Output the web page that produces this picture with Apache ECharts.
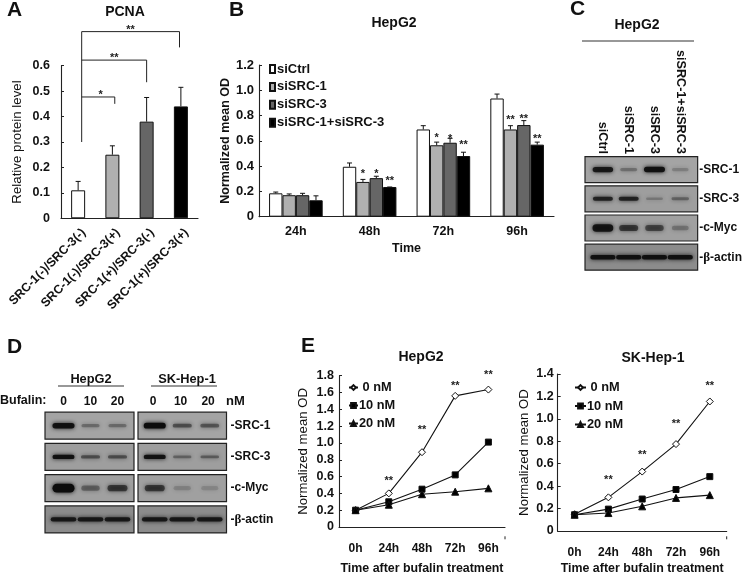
<!DOCTYPE html>
<html><head><meta charset="utf-8">
<style>html,body{margin:0;padding:0;background:#fff}#c{width:745px;height:576px;filter:blur(0.35px)}</style>
<script src="https://cdn.jsdelivr.net/npm/echarts@6/dist/echarts.min.js"></script>
</head><body><div id="c"></div>
<script>
// ---- Panel A
const aCats = ['SRC-1(-)/SRC-3(-)','SRC-1(-)/SRC-3(+)','SRC-1(+)/SRC-3(-)','SRC-1(+)/SRC-3(+)'];
const aValues = [0.11,0.25,0.38,0.44];
const aErrTops = [0.145,0.285,0.475,0.515];
// x in category widths, right-hand x, bar height, drop end of the right leg, stars
const aBrackets = [[0.604,3.46,0.734,0.672,'**'],[0.604,2.5,0.622,0.535,'**'],[0.604,1.57,0.477,0.45,'*']];
const aTrunk = [0.604,0.734,0.30];
// ---- Panel B
const bCats = ['24h','48h','72h','96h'];
const bNames = ['siCtrl','siSRC-1','siSRC-3','siSRC-1+siSRC-3'];
const bCtrl  = [0.185,0.395,0.69,0.935];
const bSrc1  = [0.17,0.275,0.565,0.69];
const bSrc3  = [0.17,0.305,0.585,0.725];
const bBoth  = [0.13,0.235,0.48,0.57];
const bCtrlErr = [0.195,0.425,0.72,0.97];
const bSrc1Err = [0.18,0.295,0.59,0.72];
const bSrc3Err = [0.185,0.32,0.62,0.76];
const bBothErr = [0.165,0.235,0.51,0.59];
// category, bar index, star height, stars
const bStars = [[1,1,0.36,'*'],[1,2,0.36,'*'],[1,3,0.305,'**'],[2,1,0.646,'*'],[2,2,0.64,'*'],[2,3,0.59,'**'],[3,1,0.79,'**'],[3,2,0.80,'**'],[3,3,0.64,'**']];
// ---- Panel C blots
const cLanes = ['siCtrl','siSRC-1','siSRC-3','siSRC-1+siSRC-3'];
const cRows = ['-SRC-1','-SRC-3','-c-Myc','-β-actin'];
const cBands = [[0.9,0.22,1,0.12],[0.8,0.8,0.15,0.3],[0.95,0.6,0.5,0.18],[1,1,1,1]];
// ---- Panel D blots
const dLanes1 = ['0','10','20'];
const dLanes2 = ['0 ','10 ','20 '];
const dRows = ['-SRC-1','-SRC-3','-c-Myc','-β-actin'];
const dBands1 = [[1,0.25,0.25],[1,0.45,0.45],[1.3,0.3,0.6],[0.9,0.9,0.9]];
const dBands2 = [[1.1,0.45,0.4],[1,0.3,0.35],[0.6,0.08,0.05],[0.9,0.9,0.9]];
// ---- Panel E
const eCats = ['0h','24h','48h','72h','96h'];
const eNames = ['0 nM','10 nM','20 nM'];
const e1Zero = [0.2,0.4,0.89,1.56,1.635];
const e1Ten  = [0.2,0.3,0.45,0.62,1.01];
const e1Twenty=[0.2,0.265,0.39,0.42,0.46];
const e2Zero = [0.15,0.30,0.53,0.775,1.155];
const e2Ten  = [0.145,0.195,0.285,0.37,0.485];
const e2Twenty=[0.145,0.16,0.22,0.295,0.32];
const e1Stars = [[1,0.586],[2,1.19],[3,1.716],[4,1.84]];
const e2Stars = [[1,0.483],[2,0.706],[3,0.977],[4,1.32]];

const FONT = '"Liberation Sans", Arial, sans-serif';
const INK = '#111';
const fills = ['#fff','#b0b0b0','#666','#000'];
const lbl = (size,bold=true)=>({fontFamily:FONT,fontSize:size,fontWeight:bold?'bold':'normal',color:INK});
const fmt1 = v => v===0 ? '0' : v.toFixed(1);
const line = {lineStyle:{color:'#222',width:1.1}};

const grid = [
 {left:61,top:65.7,width:137,height:152.6},
 {left:259,top:65,width:295,height:151.7},
 {left:339,top:375.7,width:166,height:163.6},
 {left:557.7,top:374,width:169,height:165.3},
 {left:590,top:155,width:105.6,height:116.8},
 {left:50,top:410,width:81,height:125},
 {left:141,top:410,width:82.5,height:125}
];
function catAxis(i,data,extra){return Object.assign({type:'category',gridIndex:i,data,axisLine:Object.assign({onZero:false},line),
  axisTick:{inside:true,length:3,lineStyle:{color:'#222'}},axisLabel:Object.assign({interval:0},lbl(12.5))},extra||{});}
function valAxis(i,max,step,name,gap,size,bold,nameSize,margin){return {type:'value',gridIndex:i,min:0,max,interval:step,splitLine:{show:false},
  axisLine:Object.assign({show:true},line),axisTick:{show:true,inside:true,length:3,lineStyle:{color:'#222'}},
  axisLabel:Object.assign({formatter:fmt1,margin},lbl(size)),
  name,nameLocation:'middle',nameGap:gap,nameRotate:90,nameTextStyle:lbl(nameSize||12.5,bold)};}
function blotX(i,data,extra){return {type:'category',gridIndex:i,data,position:'top',axisLine:{show:false},axisTick:{show:false},
  axisLabel:Object.assign({interval:0,margin:2},lbl(12),extra||{})};}
function blotY(i,data,show,margin){return {type:'category',gridIndex:i,data,inverse:true,position:'right',axisLine:{show:false},axisTick:{show:false},
  axisLabel:Object.assign({show,interval:0,margin,formatter:v=>v.replace('β','{s|β}'),rich:{s:{fontFamily:'"Liberation Serif",serif',fontSize:13,color:INK}}},lbl(12))};}
const eTick = {inside:true,length:3,alignWithLabel:true,lineStyle:{color:'#222'}};

const xAxis = [
 catAxis(0,aCats,{axisLabel:Object.assign({interval:0,rotate:45,margin:18,padding:[0,-8,0,0]},lbl(12.4))}),      //0
 catAxis(1,bCats,{axisLabel:Object.assign({interval:0,margin:8},lbl(12.5)),name:'Time',nameLocation:'middle',nameGap:25,nameTextStyle:lbl(12.5)}), //1
 catAxis(2,eCats,{axisTick:eTick,axisLabel:Object.assign({interval:0,margin:16},lbl(12)),name:'Time after bufalin treatment',nameLocation:'middle',nameGap:36,nameTextStyle:lbl(12.4)}), //2
 catAxis(3,eCats,{axisTick:eTick,axisLabel:Object.assign({interval:0,margin:16},lbl(12)),name:'Time after bufalin treatment',nameLocation:'middle',nameGap:32,nameTextStyle:lbl(12.4)}), //3
 blotX(4,cLanes,{rotate:90,fontSize:12.6,margin:1,padding:[0,0,5,0]}), //4
 blotX(5,dLanes1), //5
 blotX(6,dLanes2), //6
 {type:'value',gridIndex:0,min:0,max:4,show:false} //7 overlay for brackets
];
const yAxis = [
 valAxis(0,0.6,0.1,'Relative protein level',37,12.5,false,13.3,11),
 valAxis(1,1.2,0.2,'Normalized mean OD',22,13,true,12.5,5),
 valAxis(2,1.8,0.2,'Normalized mean OD',29,12.5,false,13.2,5),
 valAxis(3,1.4,0.2,'Normalized mean OD',27,12.5,false,13.2,4),
 blotY(4,cRows,true,6),
 blotY(5,dRows,false,0),
 blotY(6,dRows,true,7)
];

const errItem = (off,cap)=>(p,api)=>{
  const a=api.coord([api.value(0),api.value(1)]), b=api.coord([api.value(0),api.value(2)]);
  const x=a[0]+off;
  return {type:'group',children:[
    {type:'line',shape:{x1:x,y1:a[1],x2:x,y2:b[1]},style:{stroke:'#111',lineWidth:1}},
    {type:'line',shape:{x1:x-cap,y1:b[1],x2:x+cap,y2:b[1]},style:{stroke:'#111',lineWidth:1}}]};
};
const starText=(x,y,t,size)=>({type:'text',style:{text:t,x,y,fill:'#222',font:`bold ${size}px ${FONT}`,textAlign:'center',textVerticalAlign:'middle'}});
const series=[];
// A
series.push({type:'bar',xAxisIndex:0,yAxisIndex:0,barWidth:14,silent:true,
  data:aValues.map((v,i)=>({value:v,itemStyle:{color:fills[i],borderColor:'#111',borderWidth:1}}))});
series.push({type:'custom',xAxisIndex:0,yAxisIndex:0,silent:true,data:aValues.map((v,i)=>[i,v,aErrTops[i]]),renderItem:errItem(0,2.5),z:3});
series.push({type:'custom',xAxisIndex:7,yAxisIndex:0,silent:true,data:aBrackets,z:4,renderItem:(p,api)=>{
  const l=api.coord([api.value(0),api.value(2)]), r=api.coord([api.value(1),api.value(2)]), d=api.coord([api.value(1),api.value(3)]);
  const t=aBrackets[p.dataIndex][4];
  return {type:'group',children:[
    {type:'polyline',shape:{points:[l,r,d]},style:{stroke:'#222',lineWidth:1,fill:null}},
    starText((l[0]+r[0])/2 + (t==='*'?2.5:0),l[1]-2,t,11)]};
}});
series.push({type:'custom',xAxisIndex:7,yAxisIndex:0,silent:true,data:[aTrunk],z:4,renderItem:(p,api)=>{
  const a=api.coord([api.value(0),api.value(1)]), b=api.coord([api.value(0),api.value(2)]);
  return {type:'line',shape:{x1:a[0],y1:a[1],x2:b[0],y2:b[1]},style:{stroke:'#222',lineWidth:1}};
}});
// B
const BW=13.4;
[[bCtrl,bCtrlErr],[bSrc1,bSrc1Err],[bSrc3,bSrc3Err],[bBoth,bBothErr]].forEach((pair,k)=>{
  series.push({type:'bar',name:bNames[k],xAxisIndex:1,yAxisIndex:1,barWidth:BW,barGap:0,silent:true,data:pair[0],
    itemStyle:{color:fills[k],borderColor:'#111',borderWidth:1}});
  series.push({type:'custom',xAxisIndex:1,yAxisIndex:1,silent:true,z:3,data:pair[0].map((v,i)=>[i,v,pair[1][i]]),
    renderItem:errItem((k-1.5)*BW,2.5)});
});
series.push({type:'custom',xAxisIndex:1,yAxisIndex:1,silent:true,z:4,data:bStars,renderItem:(p,api)=>{
  const c=api.coord([api.value(0),api.value(2)]);
  return starText(c[0]+(api.value(1)-1.5)*BW,c[1]+3,bStars[p.dataIndex][3],11);
}});
// E
function lineSeries(name,data,gi,sym,size,fill){return {type:'line',name,xAxisIndex:gi,yAxisIndex:gi,data,silent:true,symbol:sym,symbolSize:size,showAllSymbol:true,
  lineStyle:{color:'#111',width:1.1},itemStyle:{color:fill,borderColor:'#111',borderWidth:1},z:3};}
[[e1Zero,e1Ten,e1Twenty,2,e1Stars],[e2Zero,e2Ten,e2Twenty,3,e2Stars]].forEach(s=>{
  series.push(lineSeries('0 nM',s[0],s[3],'diamond',7,'#fff'));
  series.push(lineSeries('10 nM',s[1],s[3],'rect',6,'#000'));
  series.push(lineSeries('20 nM',s[2],s[3],'triangle',7,'#000'));
  series.push({type:'custom',xAxisIndex:s[3],yAxisIndex:s[3],silent:true,data:s[4],renderItem:(p,api)=>{
    const c=api.coord([api.value(0),api.value(1)]);
    return starText(c[0],c[1]+3,'**',11);
  }});
});
// Blots
const rowBg=['#a4a4a4','#9e9e9e','#a0a0a0','#8c8c8c'];
const rowThick=[5,4,7,4];
function blotSeries(gi,bands,rowH,padL,padR,bandW){
  const items=[];
  bands.forEach((r,row)=>r.forEach((v,lane)=>items.push([lane,row,v])));
  series.push({type:'custom',xAxisIndex:gi,yAxisIndex:gi,silent:true,z:1,data:bands.map((r,i)=>[0,i]),clip:false,renderItem:(p,api)=>{
    const cy=api.coord([0,api.value(1)])[1], cs=p.coordSys;
    return {type:'rect',shape:{x:cs.x-padL,y:cy-rowH/2,width:cs.width+padL+padR,height:rowH},
      style:{fill:rowBg[api.value(1)],stroke:'#222',lineWidth:1.2}};
  }});
  series.push({type:'custom',xAxisIndex:gi,yAxisIndex:gi,silent:true,z:2,data:items,clip:false,renderItem:(p,api)=>{
    const c=api.coord([api.value(0),api.value(1)]), v=api.value(2), row=api.value(1);
    const th=rowThick[row]*(0.55+0.55*v), w=(row===3?bandW+4:bandW)*(0.8+0.25*Math.min(v,1));
    return {type:'rect',shape:{x:c[0]-w/2,y:c[1]-th/2,width:w,height:th,r:th/2},
      style:{fill:'#0c0c0c',opacity:Math.min(1,0.08+0.85*v),shadowBlur:4,shadowColor:'#111'}};
  }});
}
blotSeries(4,cBands,26,5,4.5,20);
blotSeries(5,dBands1,27,5,3,21);
blotSeries(6,dBands2,27,3,3,21);

const titleAt=(text,cx,cy,size)=>({text,left:cx,top:cy,padding:0,textAlign:'center',textVerticalAlign:'middle',textStyle:lbl(size)});
const title=[titleAt('PCNA',125,12,14),titleAt('HepG2',394,23,14),titleAt('HepG2',637,25,14),titleAt('HepG2',421,357,14),titleAt('SK-Hep-1',653,358,14),
  titleAt('HepG2',91,379,12.8),titleAt('SK-Hep-1',187,379,12.8)];
const letter=(t,x,y)=>({type:'text',left:x,top:y,style:{text:t,font:`bold 21px ${FONT}`,fill:'#111'}});
const freeText=(t,x,y,s)=>({type:'text',left:x,top:y,style:{text:t,font:`bold ${s}px ${FONT}`,fill:INK}});
const rule=(x1,x2,y)=>({type:'line',shape:{x1,y1:y,x2,y2:y},style:{stroke:'#333',lineWidth:1.2}});
const endTick=(x,y)=>({type:'line',shape:{x1:x,y1:y-3,x2:x,y2:y},style:{stroke:'#222',lineWidth:1}});
const graphic=[letter('A',7,0),letter('B',229,0),letter('C',570,-1),letter('D',7,337),letter('E',301,336),
  freeText('Bufalin:',0,394,12.5),freeText('nM',226,395,13),rule(582,694,41),rule(58,124,386),rule(151,217,386),
  endTick(505,539.3),endTick(726.7,539.3)];

const legendBase={orient:'vertical',padding:0,selectedMode:false};
const legend=[
 Object.assign({},legendBase,{data:bNames,left:269,top:62.5,icon:'rect',itemWidth:5,itemHeight:8,itemGap:4.9,textStyle:Object.assign({padding:[0,0,0,-3]},lbl(13))}),
 Object.assign({},legendBase,{data:eNames,left:348,top:381,itemWidth:9,itemHeight:6,itemGap:5,textStyle:Object.assign({padding:[0,0,0,-4]},lbl(12.8)),formatter:n=>n==='0 nM'?' '+n:n}),
 Object.assign({},legendBase,{data:eNames,left:574,top:381,itemWidth:11,itemHeight:6,itemGap:5.5,textStyle:Object.assign({padding:[0,0,0,-4]},lbl(12.8)),formatter:n=>n==='0 nM'?' '+n:n})
];
const chart=echarts.init(document.getElementById('c'),null,{renderer:'canvas'});
chart.setOption({animation:false,backgroundColor:'#fff',tooltip:{show:false},title,grid,xAxis,yAxis,series,legend,graphic});
</script></body></html>
